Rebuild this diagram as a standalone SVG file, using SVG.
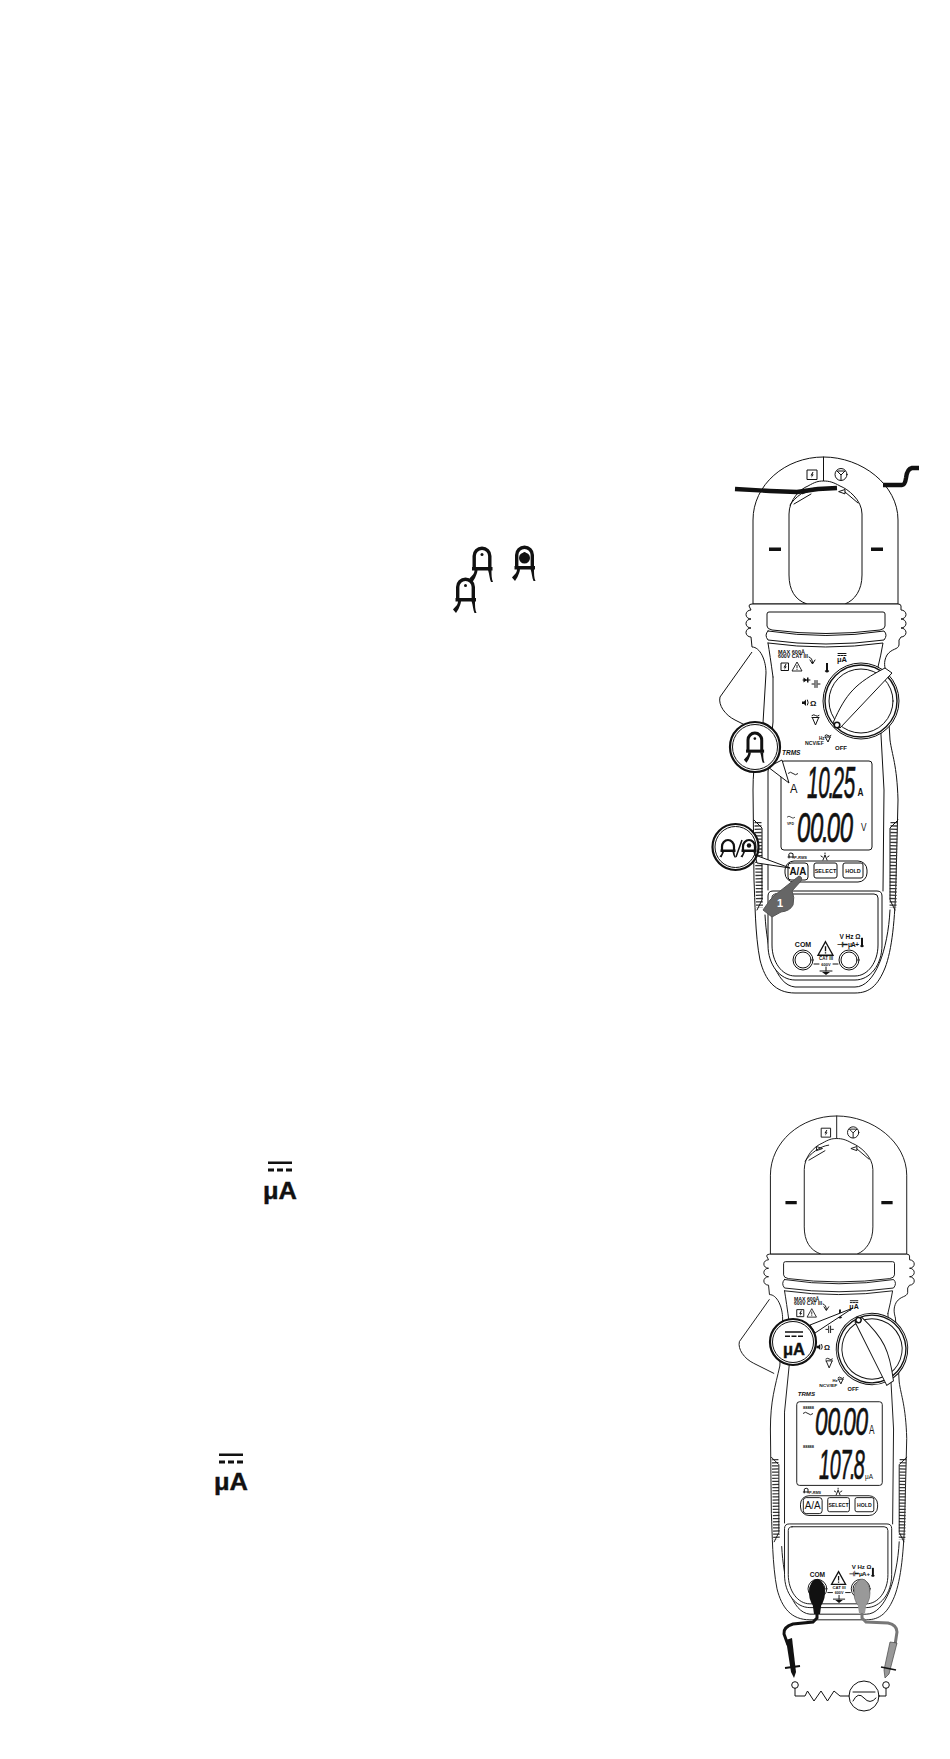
<svg xmlns="http://www.w3.org/2000/svg" xmlns:xlink="http://www.w3.org/1999/xlink" width="950" height="1759" viewBox="0 0 950 1759">
<style>
text{font-family:"Liberation Sans",Arial,sans-serif;fill:#111}
.b{font-weight:bold}
.l{fill:#fff;stroke:#111;stroke-width:1;stroke-linejoin:round}
.n{fill:none;stroke:#111;stroke-width:1;stroke-linejoin:round;stroke-linecap:round}
.w{font-size:5px;font-weight:bold}
.seg{font-style:italic;font-weight:normal;stroke:#111;stroke-width:.7}
.m{text-anchor:middle}
.ua{font-weight:bold;stroke:#111;stroke-width:.4}
</style>
<defs>
<g id="clamp">
<path d="M1.700,22V9A7.800,7.800 0 0 1 17.300,9V22" fill="none" stroke="#111" stroke-width="3.400"/>
<path d="M-.5,20H20V23.500H-.5Z" fill="#111"/>
<path d="M2,23C2,27 0,28 -3,31.500L0,35L2.500,31C3.500,28 5,26 5,23ZM15.500,23C17,27 17,32 18.500,35H20.500C19,32 19,27 19,23Z" fill="#111"/>
<circle cx="9.500" cy="7.500" r="1.500" fill="#111"/>
</g>
<g id="clamp-small">
<path d="M2,10V6.500A6,6.500 0 0 1 14,6.500V10" fill="none" stroke="#111" stroke-width="2.200"/>
<path d="M.5,9.500H15.500V12H.5Z" fill="#111"/>
<path d="M2,12Q2,14.500 -.5,16.500L1.500,17.500L4,12ZM12.500,12Q13,15 14.500,17.500H16Q14.500,15 14.500,12Z" fill="#111"/>
</g>
<path id="bolt" d="M4.500,1.500L2.500,5H4L3,7.500L5.800,4H4.300L5.500,1.500Z" fill="#111"/>
<g id="warn"><path d="M5,.5L10,9.500H0Z" fill="none" stroke="#111" stroke-width=".9"/><path d="M5,3.500V6.800M5,7.500V8.400" stroke="#111" stroke-width=".9"/></g>
<path id="tilde" d="M0,1.500Q2.500,-1 5,1.500T10,1.500" fill="none" stroke="#111" stroke-width=".9"/>
<g id="body">
<path class="l" d="M752,652L720,697C718,705 725,715 735,720L757,731"/>
<path class="l" d="M753,604V520C753,485 785,457 823.500,457C862,457 898,485 898,520V604Z"/>
<path class="n" d="M823.500,457V481"/>
<path class="l" d="M807,604C795,600 789,590 789,575V514C789,500 800,489 808,486C815,482 818,481 823.500,481C829,481 833,482 840,486C848,489 862,500 862,514V575C862,590 855,600 845,604Z"/>
<path class="n" d="M790,505C795,497 806,489 815,488M811,494L794,504M845,492L858,503M808,491.500L802,489.500V493.500ZM839,491.500L845,489.500V493.500Z"/>
<path d="M769,547.500H781V551H769ZM871,547.500H883V551H871Z" fill="#111"/>
<rect class="l" x="807" y="470" width="10" height="9.500"/>
<use xlink:href="#bolt" x="808" y="470.500"/>
<circle class="n" cx="841" cy="474.500" r="6"/>
<path class="n" d="M837,471L841,475L845,471M841,475V480M838,471H844"/>
<path class="l" d="M749,606Q749,604 752,604H898Q901,604 901,606V610a5,4.500 0 0 1 0,9a5,4.500 0 0 1 0,9a5,4.500 0 0 1 0,9L899,640V645C898,650 892,648 887,655C883,662 885,668 886,672L890,740C892,755 897,765 898,800L896,880C895,920 892,950 885,968C878,985 870,993 855,993H795C775,993 765,980 760,960C755,935 755,900 754,880L753,790C753,760 758,745 763,723L766,673C766,660 760,647 752,647L751,637a5,4.500 0 0 1 0,-9a5,4.500 0 0 1 0,-9a5,4.500 0 0 1 0,-9Z"/>
<path class="n" d="M773,677L773,722L768,772V890M878,667L881,735L884,790L883,891M765,915C767,950 775,985 795,987H855C875,987 888,950 890,910"/>
<path class="l" d="M767,614Q767,612 769,612H883Q885,612 885,614V626Q885,629 880,630Q826,637 772,630Q767,629 767,626Z"/>
<path class="n" d="M768,631Q826,640 884,631Q888,635 884,640Q826,648 768,640Q764,635 768,631ZM768,643Q826,651 883,643Q881,655 878,667M768,643Q770,655 773,677"/>
<path d="M758,822L759.500,908M894,822L893,908" fill="none" stroke="#333" stroke-width="7" stroke-dasharray="1.300 2"/>
<path class="n" d="M754,820L762,828V900L757,910M898,820L890,828V900L895,910"/>
<rect class="l" x="781" y="761" width="91" height="89" rx="3" stroke-width="1.200"/>
<rect class="l" x="785" y="861" width="82" height="21" rx="9"/>
<rect class="l" x="788" y="863" width="20" height="17" rx="3"/>
<rect class="l" x="814" y="863" width="23" height="15" rx="2"/>
<rect class="l" x="843" y="863" width="20" height="15" rx="2"/>
<path class="l" d="M773,891H877Q882,891 882,896V945C882,965 870,980 855,980H795C780,980 768,965 768,945V896Q768,891 773,891Z"/>
<path class="n" d="M776,894H874Q878,894 878,898V945C878,962 868,976 855,976H795C782,976 772,962 772,945V898Q772,894 776,894Z"/>
<circle class="n" cx="803" cy="960" r="10"/><circle class="n" cx="803" cy="960" r="8"/>
<circle class="n" cx="849" cy="960" r="10"/><circle class="n" cx="849" cy="960" r="8"/>
<use xlink:href="#warn" transform="translate(818,941) scale(1.500)"/>
<path class="n" d="M814,964H819M833,964H838M826,967V971M820,971H832"/>
<path d="M822,972H830L826,975Z" fill="#111"/>
<rect class="l" x="781" y="663" width="7.500" height="7.500"/>
<use xlink:href="#bolt" x="781" y="662.500"/>
<use xlink:href="#warn" x="792" y="661.500"/>
<path class="n" d="M809,657Q812.500,658 812.500,663M810,660L812.500,664L815,660"/>
<path d="M826,663H828V670L829.300,671Q827,674 824.700,671L826,670Z" fill="#111"/>
<path class="n" d="M812,684H814M815,680.500V687.500M817,680.500V687.500M818,684H820M803,680H810"/><path d="M807,680L803.500,677.500V682.500ZM807,677.500H808.500V682.500H807Z" fill="#111"/>
<path d="M802,701.500H804L806,699.500V706L804,704H802Z" fill="#111"/><path class="n" d="M807.500,700Q809,703 807.500,705"/>
<path class="n" d="M812,715.500Q814,714 815.500,715.500T819,715.500M812,717.500H819M812.500,718L815.500,725L818.500,718"/>
<path class="n" d="M825,735.500Q826.500,734 828,735.500T831,735.500M825,737H830.500M825.500,737.500L828,742L830,737.500"/>
<path class="n" d="M838,653.500H846M838,655.500H840M841,655.500H843M844,655.500H846" stroke-width=".8"/>
<path class="n" d="M789,856Q788,853 791,853Q794,853 793,856V858M789,856V858M788,857H794" stroke-width=".6"/>
<path class="n" d="M825,853V854M821,856L822.500,857M829,856L827.500,857M823,860L825,855L827,860" stroke-width=".7"/>
<path class="n" d="M862,938V946"/>
<path d="M861,938H863V945L864,946Q862,948.500 860,946L861,945Z" fill="#111"/>
</g>
<g id="dial">
<circle class="l" r="38" stroke-width="1.300"/>
<circle r="36" fill="none" stroke="#111" stroke-width="1.400"/>
<circle class="n" r="32"/>
<path class="l" d="M-28,22C-15,-8 -5,-18 24,-33L31,-28L-21,27Z"/>
<circle r="2.800" cx="-24" cy="24" fill="#fff" stroke="#111" stroke-width="1.600"/>
</g>
</defs>

<g id="icons">
<use id="icon-1" xlink:href="#clamp" transform="translate(472.500,547)"/>
<g id="icon-2"><use xlink:href="#clamp" transform="translate(515,546)"/><circle cx="524.500" cy="558" r="5.500" fill="#111"/></g>
<use id="icon-3" xlink:href="#clamp" transform="translate(456,578)"/>
<g id="ua-1"><path d="M268,1161.500H292V1164H268ZM268,1168.500H274V1171.500H268ZM277,1168.500H283V1171.500H277ZM286,1168.500H292V1171.500H286Z" fill="#111"/><text class="ua" x="263" y="1199" font-size="24" textLength="34" lengthAdjust="spacingAndGlyphs">μA</text></g>
<g id="ua-2"><path d="M219,1453.500H243V1456H219ZM219,1460.500H225V1463.500H219ZM228,1460.500H234V1463.500H228ZM237,1460.500H243V1463.500H237Z" fill="#111"/><text class="ua" x="214" y="1490" font-size="24" textLength="34" lengthAdjust="spacingAndGlyphs">μA</text></g>
</g>

<g id="meter-1">
<use xlink:href="#body"/>
<use xlink:href="#dial" transform="translate(861,701)"/>
<text class="w" x="778" y="653.500" textLength="27" lengthAdjust="spacingAndGlyphs">MAX 600Ā</text>
<text class="w" x="778" y="658.300" textLength="30" lengthAdjust="spacingAndGlyphs">600V CAT III</text>
<text class="b m" x="842" y="662" font-size="7.500">μA</text>
<text class="b" x="810" y="705.500" font-size="8">Ω</text>
<text class="b" x="819" y="740" font-size="4.500">Hz</text>
<text class="b" x="805" y="745.300" font-size="4.500" textLength="19" lengthAdjust="spacingAndGlyphs">NCV/EF</text>
<text class="b m" x="841" y="750" font-size="6">OFF</text>
<text class="b" x="782" y="755" font-size="6.500" font-style="italic">TRMS</text>
<use xlink:href="#tilde" x="788" y="772"/>
<text x="790" y="792.500" font-size="13" textLength="7.500" lengthAdjust="spacingAndGlyphs">A</text>
<text class="seg" transform="translate(807,798) scale(.47,1)" x="0 24 46 54 78" font-size="44">10.25</text>
<text class="b" x="857.500" y="795.500" font-size="10" textLength="6" lengthAdjust="spacingAndGlyphs">A</text>
<use xlink:href="#tilde" transform="translate(787,816) scale(.8)"/>
<text class="b" x="787" y="824.500" font-size="3.500">VFD</text>
<text class="seg" transform="translate(797,842) scale(.57,1)" x="0 23 44 52 75" font-size="42">00.00</text>
<text x="861" y="831" font-size="11" textLength="5.500" lengthAdjust="spacingAndGlyphs">V</text>
<text class="b" x="794" y="859" font-size="4" font-style="italic">P-RMS</text>
<text class="b m" x="798" y="875" font-size="10" textLength="17" lengthAdjust="spacingAndGlyphs">A/A</text>
<text class="b m" x="825.500" y="873" font-size="5.500">SELECT</text>
<text class="b m" x="853" y="873" font-size="5.500">HOLD</text>
<text class="b m" x="803" y="947" font-size="7">COM</text>
<text class="b m" x="826" y="960" font-size="4.500">CAT III</text>
<text class="b m" x="826" y="965.500" font-size="4">600V</text>
<text class="b m" x="850" y="939" font-size="6.500">V Hz Ω</text>
<text class="b" x="837" y="946.500" font-size="6.500" textLength="22" lengthAdjust="spacing">⊣⊢ μA +</text>
<g id="wire-1"><path d="M735,489L770,491L797,492L818,489L837,488M883,485H902Q905,485 906,478Q907,469 912,468H919" fill="none" stroke="#111" stroke-width="4.400" stroke-linejoin="round"/></g>
<g id="bubble-1a">
<path class="l" d="M768,767L789,783L782,760Z" stroke-width="1.300"/>
<circle cx="755" cy="747" r="25" fill="#fff" stroke="#111" stroke-width="2.200"/>
<circle cx="755" cy="747" r="22.500" fill="none" stroke="#111" stroke-width="1"/>
<use xlink:href="#clamp" transform="translate(746.500,732) scale(.88)"/>
</g>
<g id="bubble-1b">
<path class="l" d="M755,855L790,868L757,863Z" stroke-width="1.300"/>
<circle cx="735.500" cy="847" r="23" fill="#fff" stroke="#111" stroke-width="2.200"/>
<circle cx="735.500" cy="847" r="20.500" fill="none" stroke="#111" stroke-width="1"/>
<use xlink:href="#clamp-small" transform="translate(720,840)"/>
<path d="M736,857L742,840" stroke="#111" stroke-width="1.500"/>
<use xlink:href="#clamp-small" transform="translate(741,840)"/>
<circle cx="749" cy="845.500" r="2.200" fill="#111"/>
</g>
<g id="hand">
<path d="M799,876Q803,877 801,881L792,891Q795,897 793,905Q790,911 781,912L772,917L763,910L770,900L775,895Z" fill="#666" stroke="#555" stroke-width="1" stroke-linejoin="round"/>
<text class="b m" x="780" y="907" font-size="11" style="fill:#fff">1</text>
</g>
</g>

<g id="meter-2">
<use xlink:href="#body" transform="translate(62.600,686.400) scale(.94)"/>
<use xlink:href="#dial" transform="translate(872,1349) rotate(110) scale(.94)"/>
<g transform="translate(62.600,686.400) scale(.94)">
<text class="w" x="778" y="653.500" textLength="27" lengthAdjust="spacingAndGlyphs">MAX 600Ā</text>
<text class="w" x="778" y="658.300" textLength="30" lengthAdjust="spacingAndGlyphs">600V CAT III</text>
<text class="b m" x="842" y="662" font-size="7.500">μA</text>
<text class="b" x="810" y="705.500" font-size="8">Ω</text>
<text class="b" x="819" y="740" font-size="4.500">Hz</text>
<text class="b" x="805" y="745.300" font-size="4.500" textLength="19" lengthAdjust="spacingAndGlyphs">NCV/EF</text>
<text class="b m" x="841" y="750" font-size="6">OFF</text>
<text class="b" x="782" y="755" font-size="6.500" font-style="italic">TRMS</text>
<text class="b" x="794" y="859" font-size="4" font-style="italic">P-RMS</text>
<text class="m" x="798" y="875" font-size="11" textLength="17" lengthAdjust="spacingAndGlyphs">A/A</text>
<text class="b m" x="825.500" y="873" font-size="5.500">SELECT</text>
<text class="b m" x="853" y="873" font-size="5.500">HOLD</text>
<text class="b m" x="803" y="947" font-size="7">COM</text>
<text class="b m" x="826" y="960" font-size="4.500">CAT III</text>
<text class="b m" x="826" y="965.500" font-size="4">600V</text>
<text class="b m" x="850" y="939" font-size="6.500">V Hz Ω</text>
<text class="b" x="837" y="946.500" font-size="6.500" textLength="22" lengthAdjust="spacing">⊣⊢ μA +</text>
</g>
<use xlink:href="#tilde" x="803" y="1412"/>
<text class="b" x="803" y="1409" font-size="3.500" textLength="11" lengthAdjust="spacingAndGlyphs">88888</text>
<text class="b" x="803" y="1448" font-size="3.500" textLength="11" lengthAdjust="spacingAndGlyphs">88888</text>
<text class="seg" transform="translate(815,1435) scale(.58,1)" x="0 21.500 41 48.500 70" font-size="39">00.00</text>
<text x="869" y="1434" font-size="12" textLength="5.500" lengthAdjust="spacingAndGlyphs">A</text>
<text class="seg" transform="translate(819,1479) scale(.47,1)" x="0 23 46 66 74" font-size="42">107.8</text>
<text x="865" y="1479" font-size="7" textLength="8" lengthAdjust="spacingAndGlyphs">μA</text>
<g id="bubble-2">
<path class="l" d="M810,1325L853,1308L815,1333Z" stroke-width="1.300"/>
<circle cx="793" cy="1342" r="23" fill="#fff" stroke="#111" stroke-width="2.200"/>
<circle cx="793" cy="1342" r="20.500" fill="none" stroke="#111" stroke-width="1"/>
<path d="M785,1331.200H803V1332.800H785ZM785,1335.500H790V1337H785ZM791.500,1335.500H796.500V1337H791.500ZM798,1335.500H803V1337H798Z" fill="#111"/>
<text class="ua" x="783" y="1354.500" font-size="16" textLength="22" lengthAdjust="spacingAndGlyphs">μA</text>
</g>
<g id="leads">
<path d="M817,1612V1618L813,1622L793,1624Q783,1627 784,1634L788,1645" fill="none" stroke="#111" stroke-width="3"/>
<ellipse cx="817" cy="1593" rx="8" ry="14" fill="#111"/><path d="M812,1600H822L820,1614H814Z" fill="#111"/>
<path d="M786,1640L792,1638L796,1672L794,1678L791,1672Z" fill="#111"/><path d="M785,1668L800,1666" stroke="#111" stroke-width="2"/>
<path d="M862,1612V1618L866,1622L888,1623Q897,1625 897,1632L895,1645" fill="none" stroke="#777" stroke-width="3"/>
<ellipse cx="862" cy="1593" rx="8" ry="14" fill="#999" stroke="#555" stroke-width=".6"/><path d="M857,1600H867L865,1613H859Z" fill="#999"/>
<path d="M890,1642L897,1643L889,1674L885,1678L884,1670Z" fill="#999" stroke="#444" stroke-width=".7"/><path d="M881,1667L896,1670" stroke="#111" stroke-width="1.600"/>
<circle class="l" cx="795" cy="1685" r="3.300"/><circle class="l" cx="886" cy="1685" r="3.300"/>
</g>
<g id="circuit">
<path class="n" d="M795,1688.300V1696H805L807.500,1691L814,1701L821,1691L827.500,1701L834,1691L840,1696H849M879,1696H886V1688.300"/>
<circle class="n" cx="864" cy="1696" r="15"/>
<path class="n" d="M853,1692H875M853,1701Q858,1691 864,1698T876,1698"/>
</g>
</g>
</svg>
